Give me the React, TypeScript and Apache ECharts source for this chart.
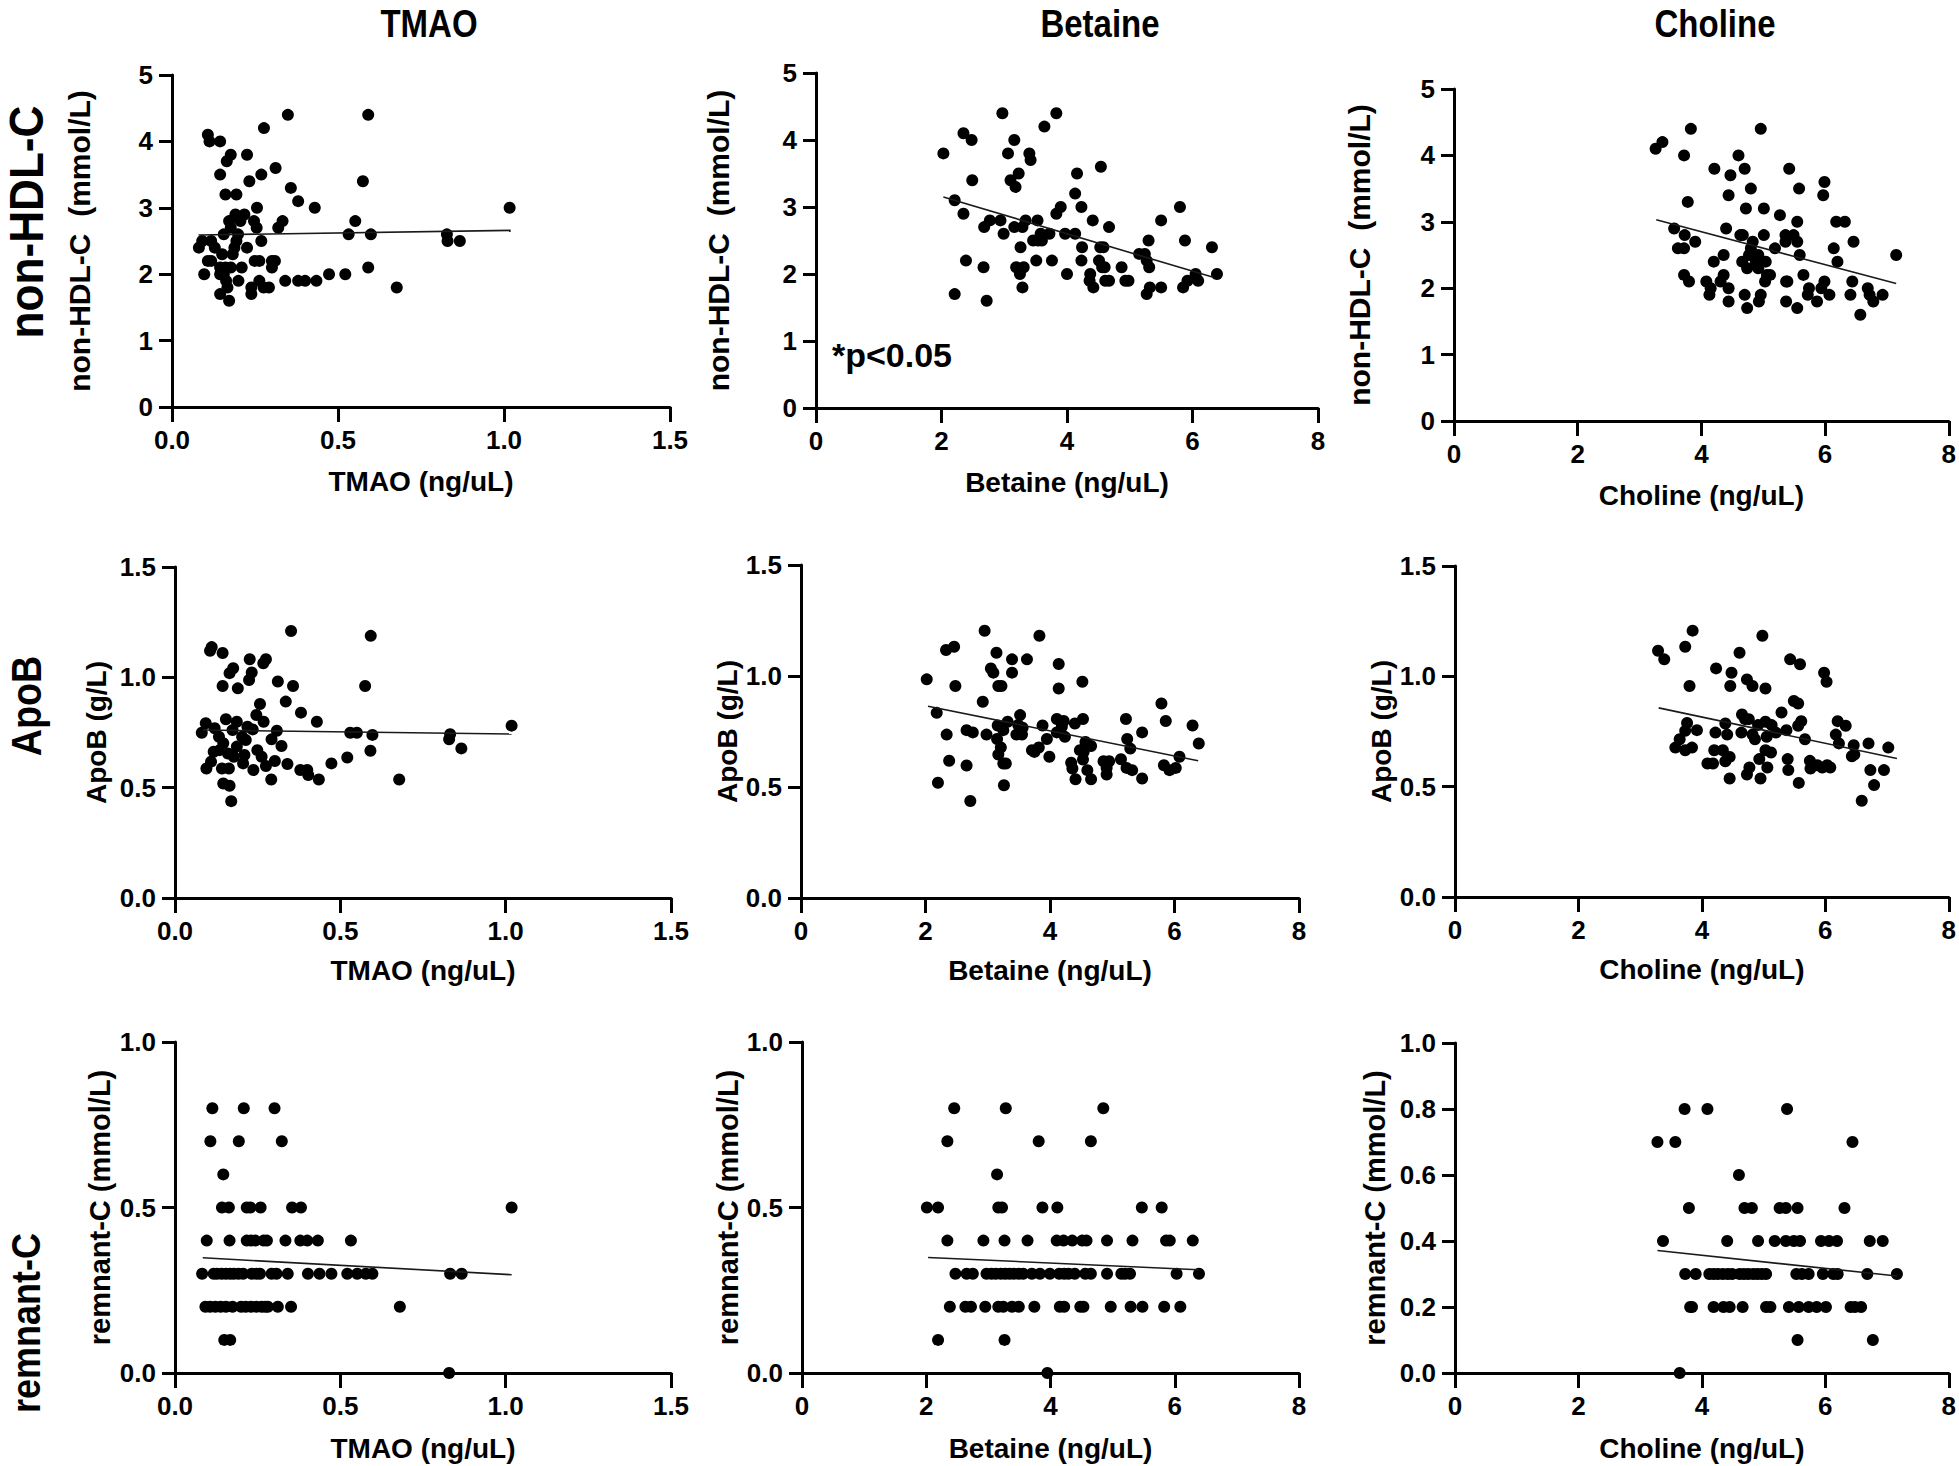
import React, { useEffect, useRef } from "react";
import * as echarts from "echarts";

// ---------- data ----------
const colTitles = ["TMAO", "Betaine", "Choline"];
const rowTitles = ["non-HDL-C", "ApoB", "remnant-C"];
const xNames = ["TMAO (ng/uL)", "Betaine (ng/uL)", "Choline (ng/uL)"];
const yNames = ["non-HDL-C  (mmol/L)", "ApoB (g/L)", "remnant-C (mmol/L)"];
const pText = "*p<0.05";

const tmaoNonHdl = [
  [0.108,4.1],[0.113,4.0],[0.145,4.0],[0.177,3.8],[0.165,3.7],[0.226,3.8],[0.145,3.5],[0.233,3.4],[0.269,3.5],[0.312,3.6],
  [0.277,4.2],[0.349,4.4],[0.591,4.4],[0.575,3.4],[0.358,3.3],[0.380,3.1],[0.430,3.0],[0.161,3.2],[0.194,3.2],[0.256,3.0],
  [1.017,3.0],[0.191,2.9],[0.218,2.9],[0.172,2.8],[0.206,2.8],[0.247,2.8],[0.333,2.8],[0.552,2.8],[0.177,2.7],[0.255,2.7],
  [0.320,2.7],[0.156,2.6],[0.199,2.6],[0.532,2.6],[0.599,2.6],[0.828,2.6],[0.091,2.5],[0.118,2.5],[0.194,2.5],[0.269,2.5],
  [0.830,2.5],[0.867,2.5],[0.081,2.4],[0.129,2.4],[0.188,2.4],[0.226,2.4],[0.151,2.3],[0.183,2.3],[0.108,2.2],[0.118,2.2],
  [0.249,2.2],[0.263,2.2],[0.301,2.2],[0.310,2.2],[0.145,2.1],[0.161,2.1],[0.177,2.1],[0.210,2.1],[0.301,2.1],[0.591,2.1],
  [0.097,2.0],[0.145,2.0],[0.156,2.0],[0.473,2.0],[0.522,2.0],[0.163,1.9],[0.200,1.9],[0.263,1.9],[0.341,1.9],[0.380,1.9],
  [0.401,1.9],[0.435,1.9],[0.167,1.8],[0.239,1.8],[0.276,1.8],[0.292,1.8],[0.677,1.8],[0.145,1.7],[0.239,1.7],[0.172,1.6],
];
const betaineNonHdl = [
  [2.03,3.8],[2.21,3.1],[2.21,1.7],[2.35,4.1],[2.48,4.0],[2.49,3.4],[2.35,2.9],[2.39,2.2],[2.67,2.1],[2.72,1.6],
  [2.68,2.7],[2.77,2.8],[2.94,2.8],[2.97,4.4],[2.99,2.6],[3.06,3.8],[3.16,4.0],[3.10,3.4],[3.18,3.3],[3.23,3.5],
  [3.16,2.7],[3.29,2.7],[3.34,2.8],[3.26,2.4],[3.19,2.1],[3.31,2.1],[3.25,2.0],[3.29,1.8],[3.40,3.8],[3.42,3.7],
  [3.46,2.5],[3.53,2.8],[3.54,2.5],[3.58,2.6],[3.60,2.5],[3.51,2.2],[3.64,4.2],[3.72,2.6],[3.76,2.2],[3.83,4.4],
  [3.83,2.9],[3.90,3.0],[3.97,2.6],[4.00,2.0],[4.13,2.6],[4.13,3.2],[4.16,3.5],[4.23,3.0],[4.24,2.4],[4.23,2.2],
  [4.37,2.0],[4.36,1.9],[4.42,1.8],[4.41,2.8],[4.54,3.6],[4.53,2.4],[4.58,2.4],[4.51,2.2],[4.56,2.1],[4.60,2.1],
  [4.61,1.9],[4.67,1.9],[4.67,2.7],[4.87,2.1],[4.93,1.9],[4.98,1.9],[5.15,2.3],[5.24,2.3],[5.27,2.2],[5.30,2.5],
  [5.31,2.1],[5.27,1.7],[5.32,1.8],[5.50,2.8],[5.50,1.8],[5.80,3.0],[5.88,2.5],[5.85,1.8],[5.92,1.9],[6.05,2.0],
  [6.09,1.9],[6.31,2.4],[6.39,2.0],
];
const cholineNonHdl = [
  [3.26,4.1],[3.37,4.2],[3.83,4.4],[3.72,4.0],[3.78,3.3],[3.56,2.9],[3.73,2.8],[3.90,2.7],[3.62,2.6],[3.72,2.6],
  [3.72,2.2],[3.80,2.1],[4.08,2.1],[4.15,2.0],[4.13,1.9],[4.20,2.4],[4.21,3.8],[4.36,2.5],[4.40,2.9],[4.36,2.2],
  [4.31,2.1],[4.44,2.0],[4.44,1.8],[4.44,3.4],[4.47,3.7],[4.60,4.0],[4.63,2.8],[4.67,2.8],[4.66,2.4],[4.74,2.3],
  [4.70,1.9],[4.74,1.7],[4.70,3.8],[4.80,3.5],[4.72,3.2],[4.83,2.7],[4.80,2.6],[4.77,2.5],[4.92,2.5],[4.88,2.4],
  [4.92,2.3],[4.96,4.4],[4.96,1.9],[4.93,1.8],[5.01,3.2],[5.01,2.8],[5.04,2.4],[5.06,2.2],[5.11,2.2],[5.03,2.1],
  [5.19,2.6],[5.27,3.1],[5.36,2.8],[5.36,2.7],[5.42,3.8],[5.49,2.8],[5.55,2.7],[5.55,3.0],[5.58,3.5],[5.59,2.5],
  [5.37,2.1],[5.39,2.1],[5.37,1.8],[5.55,1.7],[5.65,2.2],[5.74,2.0],[5.72,1.9],[5.87,1.8],[5.94,2.0],[5.99,2.1],
  [6.07,1.9],[5.97,3.4],[5.99,3.6],[6.14,2.6],[6.20,2.4],[6.18,3.0],[6.32,3.0],[6.46,2.7],[6.44,2.1],[6.41,1.9],
  [6.57,1.6],[6.69,2.0],[6.72,1.9],[6.78,1.8],[6.93,1.9],[7.15,2.5],
];
const tmaoApoB = [
  [0.111,1.137],[0.106,1.12],[0.144,1.11],[0.351,1.21],[0.592,1.188],[0.226,1.082],[0.275,1.082],[0.267,1.064],[0.176,1.041],[0.165,1.019],
  [0.232,1.022],[0.224,0.988],[0.311,0.981],[0.144,0.961],[0.190,0.950],[0.357,0.961],[0.575,0.961],[0.335,0.890],[0.257,0.879],[0.381,0.840],
  [0.246,0.829],[0.429,0.799],[0.154,0.810],[0.187,0.799],[0.093,0.792],[0.268,0.799],[1.018,0.781],[0.120,0.769],[0.219,0.776],[0.235,0.764],
  [0.174,0.761],[0.308,0.758],[0.081,0.749],[0.530,0.749],[0.550,0.749],[0.597,0.739],[0.832,0.742],[0.829,0.719],[0.866,0.678],[0.133,0.731],
  [0.203,0.731],[0.146,0.701],[0.214,0.716],[0.292,0.719],[0.322,0.689],[0.187,0.686],[0.117,0.663],[0.135,0.670],[0.160,0.655],[0.249,0.670],
  [0.591,0.667],[0.262,0.640],[0.178,0.640],[0.210,0.648],[0.521,0.637],[0.109,0.618],[0.206,0.610],[0.302,0.621],[0.340,0.607],[0.473,0.610],
  [0.275,0.598],[0.095,0.587],[0.142,0.587],[0.163,0.587],[0.237,0.580],[0.379,0.580],[0.400,0.580],[0.403,0.557],[0.291,0.537],[0.435,0.537],
  [0.678,0.537],[0.146,0.519],[0.165,0.509],[0.170,0.439],
];
const betaineApoB = [
  [2.02,0.985],[2.18,0.834],[2.20,0.519],[2.33,1.117],[2.46,1.132],[2.48,0.955],[2.34,0.736],[2.38,0.618],[2.66,0.756],[2.76,0.746],
  [2.66,0.597],[2.72,0.437],[2.95,1.204],[2.92,0.884],[2.98,0.736],[3.14,1.105],[3.05,1.034],[3.09,1.015],[3.17,0.955],[3.22,0.955],
  [3.39,1.075],[3.39,1.015],[3.63,1.075],[3.16,0.777],[3.32,0.794],[3.25,0.756],[3.15,0.716],[3.21,0.678],[3.17,0.646],[3.25,0.606],
  [3.29,0.606],[3.26,0.508],[3.52,0.824],[3.49,0.779],[3.56,0.767],[3.46,0.736],[3.55,0.736],[3.71,0.666],[3.75,0.658],[3.82,0.678],
  [3.83,1.181],[3.88,0.777],[3.95,0.716],[3.99,0.636],[4.14,1.054],[4.14,0.944],[4.11,0.806],[4.22,0.797],[4.19,0.771],[4.11,0.746],
  [4.24,0.726],[4.40,0.786],[4.53,0.806],[4.52,0.974],[4.57,0.703],[4.66,0.685],[4.48,0.666],[4.54,0.658],[4.53,0.624],[4.34,0.609],
  [4.36,0.583],[4.60,0.576],[4.41,0.535],[4.66,0.535],[4.86,0.616],[4.95,0.616],[4.91,0.586],[4.91,0.556],[5.14,0.625],[5.22,0.806],
  [5.24,0.716],[5.29,0.673],[5.23,0.586],[5.32,0.576],[5.48,0.746],[5.48,0.538],[5.79,0.876],[5.86,0.797],[5.83,0.598],[5.92,0.576],
  [6.02,0.586],[6.08,0.636],[6.29,0.777],[6.39,0.696],
];
const cholineApoB = [
  [3.29,1.116],[3.39,1.077],[3.73,1.134],[3.85,1.207],[3.80,0.956],[3.64,0.715],[3.57,0.677],[3.73,0.665],[3.84,0.677],[3.76,0.789],
  [3.73,0.753],[3.92,0.756],[4.23,1.036],[4.48,1.016],[4.61,1.107],[4.46,0.956],[4.73,0.986],[4.82,0.956],[4.22,0.745],[4.38,0.786],
  [4.41,0.736],[4.65,0.827],[4.70,0.806],[4.76,0.806],[4.64,0.745],[4.82,0.736],[4.86,0.715],[4.20,0.665],[4.34,0.665],[4.45,0.635],
  [4.38,0.615],[4.09,0.605],[4.18,0.605],[4.45,0.537],[4.77,0.587],[4.73,0.555],[4.98,1.184],[5.03,0.945],[4.91,0.779],[5.03,0.794],
  [5.13,0.779],[5.05,0.726],[5.20,0.745],[5.03,0.665],[5.12,0.655],[4.93,0.625],[5.06,0.587],[4.95,0.537],[5.29,0.836],[5.37,0.756],
  [5.43,1.077],[5.59,1.055],[5.49,0.888],[5.56,0.877],[5.61,0.797],[5.56,0.776],[5.67,0.715],[5.39,0.625],[5.40,0.575],[5.57,0.517],
  [5.75,0.617],[5.76,0.582],[5.87,0.597],[5.95,0.587],[6.03,0.597],[6.08,0.587],[5.98,1.016],[6.02,0.975],[6.20,0.797],[6.33,0.776],
  [6.17,0.736],[6.22,0.696],[6.46,0.688],[6.43,0.638],[6.47,0.646],[6.70,0.696],[6.73,0.575],[6.79,0.507],[6.95,0.575],[6.59,0.436],
  [7.02,0.677],
];
const tmaoRemnant = [
  [0.113,0.8],[0.208,0.8],[0.301,0.8],[0.107,0.7],[0.193,0.7],[0.323,0.7],[0.146,0.6],
  [0.142,0.5],[0.163,0.5],[0.217,0.5],[0.228,0.5],[0.259,0.5],[0.354,0.5],[0.381,0.5],[1.018,0.5],
  [0.096,0.4],[0.165,0.4],[0.217,0.4],[0.230,0.4],[0.243,0.4],[0.268,0.4],[0.278,0.4],[0.334,0.4],[0.379,0.4],[0.400,0.4],[0.432,0.4],[0.532,0.4],
  [0.082,0.3],[0.117,0.3],[0.127,0.3],[0.141,0.3],[0.154,0.3],[0.167,0.3],[0.178,0.3],[0.192,0.3],[0.206,0.3],[0.232,0.3],[0.246,0.3],[0.257,0.3],
  [0.292,0.3],[0.307,0.3],[0.341,0.3],[0.402,0.3],[0.437,0.3],[0.473,0.3],[0.521,0.3],[0.551,0.3],[0.577,0.3],[0.597,0.3],[0.832,0.3],[0.867,0.3],
  [0.092,0.2],[0.106,0.2],[0.122,0.2],[0.138,0.2],[0.154,0.2],[0.174,0.2],[0.200,0.2],[0.214,0.2],[0.230,0.2],[0.246,0.2],[0.262,0.2],[0.273,0.2],
  [0.281,0.2],[0.311,0.2],[0.351,0.2],[0.680,0.2],
  [0.149,0.1],[0.167,0.1],[0.829,0.0],
];
const betaineRemnant = [
  [2.45,0.8],[3.28,0.8],[4.85,0.8],[2.34,0.7],[3.81,0.7],[4.65,0.7],[3.14,0.6],
  [2.01,0.5],[2.19,0.5],[3.16,0.5],[3.22,0.5],[3.87,0.5],[4.11,0.5],[5.47,0.5],[5.79,0.5],
  [2.34,0.4],[2.92,0.4],[3.26,0.4],[3.63,0.4],[4.10,0.4],[4.21,0.4],[4.35,0.4],[4.51,0.4],[4.58,0.4],[4.91,0.4],[5.32,0.4],[5.86,0.4],[5.92,0.4],[6.29,0.4],
  [2.47,0.3],[2.65,0.3],[2.75,0.3],[2.97,0.3],[3.05,0.3],[3.12,0.3],[3.20,0.3],[3.27,0.3],[3.34,0.3],[3.41,0.3],[3.49,0.3],[3.56,0.3],[3.70,0.3],[3.83,0.3],
  [3.99,0.3],[4.14,0.3],[4.22,0.3],[4.29,0.3],[4.39,0.3],[4.56,0.3],[4.65,0.3],[4.91,0.3],[5.14,0.3],[5.20,0.3],[5.28,0.3],[6.03,0.3],[6.39,0.3],
  [2.38,0.2],[2.63,0.2],[2.72,0.2],[2.95,0.2],[3.16,0.2],[3.24,0.2],[3.38,0.2],[3.49,0.2],[3.74,0.2],[4.15,0.2],[4.22,0.2],[4.48,0.2],[4.53,0.2],
  [4.97,0.2],[5.29,0.2],[5.48,0.2],[5.83,0.2],[6.09,0.2],
  [2.19,0.1],[3.26,0.1],[3.95,0.0],
];
const cholineRemnant = [
  [3.72,0.8],[4.09,0.8],[5.38,0.8],[3.28,0.7],[3.57,0.7],[6.44,0.7],[4.60,0.6],
  [3.79,0.5],[4.69,0.5],[4.81,0.5],[5.26,0.5],[5.36,0.5],[5.55,0.5],[6.31,0.5],
  [3.37,0.4],[4.41,0.4],[4.91,0.4],[5.18,0.4],[5.36,0.4],[5.49,0.4],[5.59,0.4],[5.93,0.4],[6.06,0.4],[6.19,0.4],[6.72,0.4],[6.93,0.4],
  [3.73,0.3],[3.90,0.3],[4.12,0.3],[4.19,0.3],[4.26,0.3],[4.34,0.3],[4.42,0.3],[4.49,0.3],[4.61,0.3],[4.68,0.3],[4.75,0.3],[4.83,0.3],
  [4.90,0.3],[4.97,0.3],[5.04,0.3],[5.53,0.3],[5.62,0.3],[5.73,0.3],[5.96,0.3],[6.13,0.3],[6.20,0.3],[6.68,0.3],[7.16,0.3],
  [3.81,0.2],[3.84,0.2],[4.19,0.2],[4.35,0.2],[4.45,0.2],[4.66,0.2],[5.04,0.2],[5.11,0.2],[5.41,0.2],[5.57,0.2],[5.73,0.2],[5.86,0.2],
  [6.01,0.2],[6.41,0.2],[6.48,0.2],[6.58,0.2],
  [5.55,0.1],[6.77,0.1],[3.64,0.0],
];

// regression lines (end points)
const fitTmaoNonHdl = [[0.08,2.59],[1.02,2.66]];
const fitBetaineNonHdl = [[2.03,3.15],[6.33,1.95]];
const fitCholineNonHdl = [[3.27,3.03],[7.15,2.07]];
const fitTmaoApoB = [[0.084,0.761],[1.018,0.743]];
const fitBetaineApoB = [[2.04,0.864],[6.38,0.618]];
const fitCholineApoB = [[3.30,0.857],[7.16,0.628]];
const fitTmaoRemnant = [[0.084,0.348],[1.018,0.297]];
const fitBetaineRemnant = [[2.03,0.349],[6.38,0.312]];
const fitCholineRemnant = [[3.28,0.371],[7.16,0.294]];

// axis scales
const xScales = [
  { min: 0, max: 1.5, interval: 0.5, dec: 1 },
  { min: 0, max: 8, interval: 2, dec: 0 },
  { min: 0, max: 8, interval: 2, dec: 0 },
];
const yScalesByPanel = [
  { min: 0, max: 5, interval: 1, dec: 0 }, { min: 0, max: 5, interval: 1, dec: 0 }, { min: 0, max: 5, interval: 1, dec: 0 },
  { min: 0, max: 1.5, interval: 0.5, dec: 1 }, { min: 0, max: 1.5, interval: 0.5, dec: 1 }, { min: 0, max: 1.5, interval: 0.5, dec: 1 },
  { min: 0, max: 1, interval: 0.5, dec: 1 }, { min: 0, max: 1, interval: 0.5, dec: 1 }, { min: 0, max: 1, interval: 0.2, dec: 1 },
];

const panelData = [
  tmaoNonHdl, betaineNonHdl, cholineNonHdl,
  tmaoApoB, betaineApoB, cholineApoB,
  tmaoRemnant, betaineRemnant, cholineRemnant,
];
const panelFits = [
  fitTmaoNonHdl, fitBetaineNonHdl, fitCholineNonHdl,
  fitTmaoApoB, fitBetaineApoB, fitCholineApoB,
  fitTmaoRemnant, fitBetaineRemnant, fitCholineRemnant,
];

// ---------- layout ----------
const grids = [
  { left: 172, top: 75, width: 498, height: 332 },
  { left: 816, top: 73, width: 502, height: 335 },
  { left: 1454, top: 89, width: 496, height: 332 },
  { left: 175, top: 567, width: 496, height: 331 },
  { left: 801, top: 565, width: 498, height: 333 },
  { left: 1455, top: 566, width: 495, height: 331 },
  { left: 175, top: 1042, width: 496, height: 331 },
  { left: 802, top: 1042, width: 497, height: 331 },
  { left: 1455, top: 1043, width: 495, height: 330 },
];
const yNameGaps = [78, 83, 80, 65, 56, 60, 61, 51, 66];
const xNameGaps = [60, 60, 60, 58, 58, 58, 61, 61, 61];
const yNameSizes = [30, 30, 30, 28, 28, 28, 29, 29, 29];

const FONT = "'Liberation Sans', Arial, Helvetica, sans-serif";

export default function App() {
  const ref = useRef<HTMLDivElement>(null);
  useEffect(() => {
    if (!ref.current) return;
    const chart = echarts.init(ref.current, undefined, { renderer: "svg" });

    const axisCommon = (s: any) => ({
      min: s.min,
      max: s.max,
      interval: s.interval,
      axisLine: { show: true, onZero: false, lineStyle: { color: "#000", width: 3 } },
      axisTick: { show: true, length: 13, lineStyle: { color: "#000", width: 3 } },
      splitLine: { show: false },
      axisLabel: {
        color: "#000",
        fontSize: 26,
        fontWeight: "bold",
        fontFamily: FONT,
        margin: 19,
        formatter: (v: number) => v.toFixed(s.dec),
      },
      nameTextStyle: { color: "#000", fontSize: 28, fontWeight: "bold", fontFamily: FONT },
      nameLocation: "middle",
    });

    const xAxis = grids.map((_, i) => {
      const s = xScales[i % 3];
      const a: any = axisCommon(s);
      a.type = "value";
      a.gridIndex = i;
      a.name = xNames[i % 3];
      a.nameGap = xNameGaps[i];
      a.axisTick.length = 15;
      a.axisLabel.margin = 20;
      return a;
    });
    const yAxis = grids.map((_, i) => {
      const s = yScalesByPanel[i];
      const a: any = axisCommon(s);
      a.type = "value";
      a.gridIndex = i;
      a.name = yNames[Math.floor(i / 3)];
      a.nameGap = yNameGaps[i];
      a.nameTextStyle = { ...a.nameTextStyle, fontSize: yNameSizes[i] };
      return a;
    });

    const series: any[] = [];
    panelData.forEach((d, i) => {
      series.push({
        type: "scatter",
        xAxisIndex: i,
        yAxisIndex: i,
        data: d,
        symbol: "circle",
        symbolSize: 12,
        clip: false,
        itemStyle: { color: "#000", opacity: 1 },
        z: 3,
      });
      series.push({
        type: "line",
        xAxisIndex: i,
        yAxisIndex: i,
        data: panelFits[i],
        showSymbol: false,
        symbol: "none",
        lineStyle: { color: "#1a1a1a", width: 1.6 },
        z: 4,
      });
    });

    const titleXs = [429, 1100, 1715];
    const rowYs = [222, 706, 1323];
    const rowSizes = [48, 42, 40];
    const rowStretch = [0.92, 0.9, 0.9];
    const graphic: any[] = [];
    colTitles.forEach((t, i) => {
      graphic.push({
        type: "text",
        x: titleXs[i],
        y: 23,
        scaleY: 1.2,
        style: {
          text: t,
          fill: "#000",
          font: `bold 33px ${FONT}`,
          align: "center",
          verticalAlign: "middle",
        },
      });
    });
    rowTitles.forEach((t, i) => {
      graphic.push({
        type: "text",
        x: 26,
        y: rowYs[i],
        rotation: Math.PI / 2,
        scaleX: rowStretch[i],
        style: {
          text: t,
          fill: "#000",
          font: `bold ${rowSizes[i]}px ${FONT}`,
          align: "center",
          verticalAlign: "middle",
        },
      });
    });
    graphic.push({
      type: "text",
      x: 832,
      y: 355,
      style: {
        text: pText,
        fill: "#000",
        font: `bold 34px ${FONT}`,
        align: "left",
        verticalAlign: "middle",
      },
    });

    chart.setOption({
      animation: false,
      backgroundColor: "#fff",
      grid: grids.map((g) => ({ ...g, containLabel: false })),
      xAxis,
      yAxis,
      series,
      graphic,
    });
    return () => chart.dispose();
  }, []);

  return (
    <div
      ref={ref}
      style={{ position: "fixed", left: 0, top: 0, width: 1959, height: 1466, background: "#fff" }}
    />
  );
}
